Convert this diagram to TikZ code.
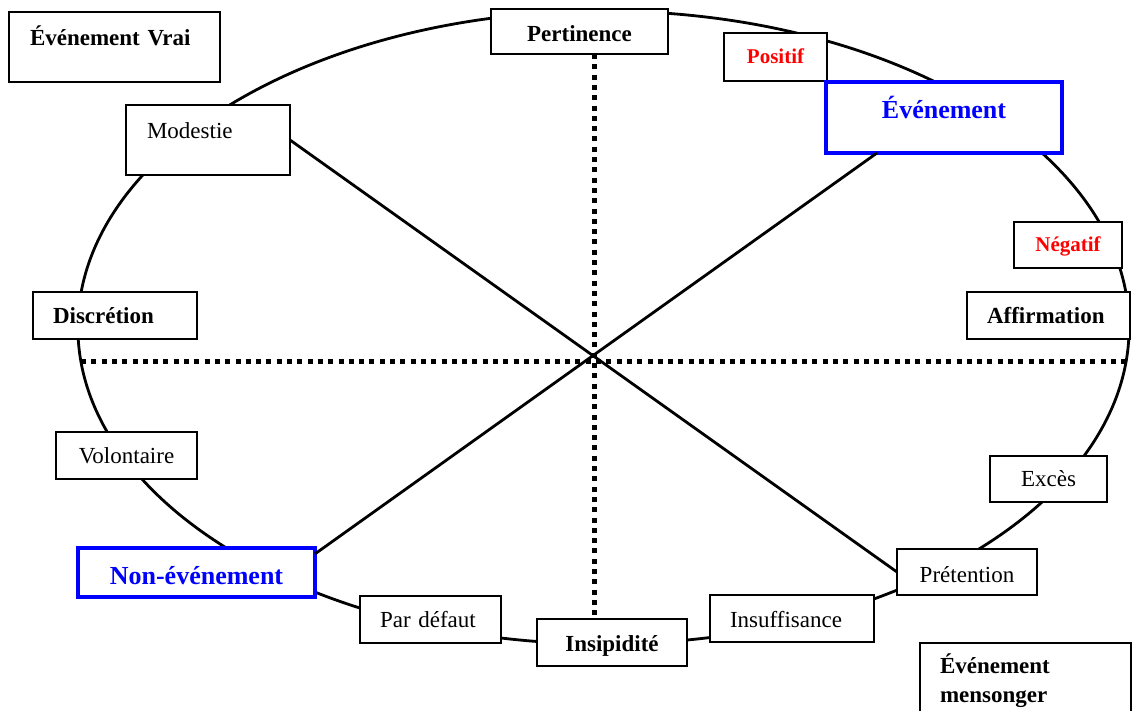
\documentclass[tikz,border=0pt]{standalone}
\usepackage{fontspec}
\setmainfont{Liberation Serif}
\usetikzlibrary{calc}
% #1 name, #2 style, #3 x1, #4 y1, #5 x2, #6 y2, #7 baseline y, #8 left/right padding, #9 text
\newcommand\bx[9]{%
  \pgfmathsetmacro\bxw{#5-#3-2*#8}%
  \pgfmathsetmacro\bxh{#7-#4}%
  \pgfmathsetmacro\bxd{#6-#7}%
  \node[#2, anchor=north west, inner xsep=#8pt, text width=\bxw pt,
        text height=\bxh pt, text depth=\bxd pt] (#1) at (#3,#4) {#9};}
\begin{document}
\begin{tikzpicture}[x=1pt,y=-1pt,
  basebox/.style={draw=black, fill=white, line width=2pt, inner ysep=0pt,
    outer sep=0pt, minimum width=0pt, minimum height=0pt},
  plainbox/.style={basebox, font=\fontsize{23}{29}\selectfont},
  bbox/.style={basebox, font=\bfseries\fontsize{23}{29}\selectfont},
  redbox/.style={basebox, text=red, font=\bfseries\fontsize{21}{25}\selectfont},
  bluebox/.style={basebox, draw=blue, line width=4pt, text=blue,
    font=\bfseries\fontsize{26}{31}\selectfont},
  curve/.style={line width=2.8pt},
  conn/.style={line width=2.8pt},
  dots/.style={line width=5pt, dash pattern=on 5pt off 5.3pt}]
\clip (0,0) rectangle (1133,710);
\fill[white] (0,0) rectangle (1133,710);
% the ellipse
\draw[curve] (603.5,327.5) ellipse [x radius=525.6pt, y radius=316.5pt];
% boxes
\bx{vrai}{bbox,align=left}{9}{12}{220}{82}{45}{21}{Événement Vrai}
\bx{mod}{plainbox,align=left}{126}{105}{290}{175}{138}{21}{Modestie}
\bx{pert}{bbox,align=center}{491}{9}{668}{54}{41}{0}{Pertinence}
\bx{pos}{redbox,align=center}{724}{33}{827}{81}{63}{0}{Positif}
\bx{ev}{bluebox,align=center}{826}{82}{1062}{153}{118}{0}{Événement}
\bx{neg}{redbox,align=center}{1014}{222}{1122}{268}{251}{0}{Négatif}
\bx{disc}{bbox,align=left}{33}{292}{197}{339}{323}{20}{Discrétion}
\bx{aff}{bbox,align=left}{967}{292}{1130}{339}{323}{20}{Affirmation}
\bx{vol}{plainbox,align=center}{56}{432}{197}{479}{463}{0}{Volontaire}
\bx{exc}{plainbox,align=center}{990}{456}{1107}{502}{486}{0}{Excès}
\bx{pret}{plainbox,align=center}{897}{549}{1037}{595}{582}{0}{Prétention}
\bx{insuf}{plainbox,align=left}{710}{595}{874}{642}{627}{20}{Insuffisance}
\bx{insip}{bbox,align=center}{537}{619}{687}{666}{651}{0}{Insipidité}
\bx{def}{plainbox,align=left}{360}{596}{501}{643}{627}{20}{Par défaut}
\bx{non}{bluebox,align=center}{78}{548}{315}{597}{584}{0}{Non-événement}
\bx{mens}{bbox,align=left}{920}{643}{1131}{716}{673}{20}{Événement\\mensonger}
% axes (dotted)
\coordinate (hl) at (81,361);
\coordinate (hr) at (1127,361);
\coordinate (vx) at (594,0);
\draw[dots] (hl) -- (hr);
\draw[dots] (vx |- pert.south) -- (vx |- insip.north);
% diagonals
\draw[conn] (mod.east) -- (pret.west);
\draw[conn] ($(ev.south west)!0.216!(ev.south east)$) -- ($(non.north east)!0.12!(non.south east)$);
\end{tikzpicture}
\end{document}
